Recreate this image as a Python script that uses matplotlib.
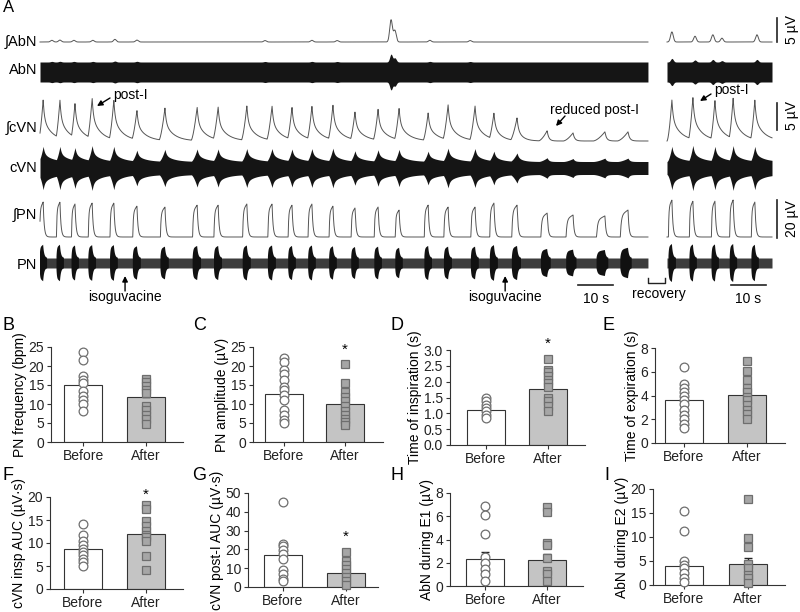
import matplotlib.pyplot as plt
import numpy as np

plt.rcParams["font.family"] = ["Liberation Sans", "DejaVu Sans"]
plt.rcParams["font.size"] = 10

# ---- panel A, values (s from start of segment, µV) ----
pn_peak_t = [0.9, 5.7, 10.0, 14.9, 21.1, 27.7, 35.7, 44.9, 50.9, 59.1, 66.3, 72.0, 77.7,
             83.7, 90.0, 96.6, 102.6, 110.9, 116.6, 124.3, 129.7, 136.3, 144.9, 152.3,
             161.4, 168.0]
pn_amp = [18.4, 18.4, 17.4, 17.9, 17.9, 16.3, 15.8, 16.8, 16.8, 17.4, 17.4, 16.8, 17.4,
          16.3, 15.3, 15.8, 14.2, 16.8, 15.8, 15.8, 17.9, 16.8, 12.6, 11.6, 11.1, 14.2]
insp_dur = [1.0, 1.0, 1.0, 1.1, 1.1, 1.2, 1.3, 1.3, 1.2, 1.2, 1.2, 1.1, 1.1,
            1.1, 1.1, 1.1, 1.1, 1.1, 1.2, 1.2, 1.2, 1.5, 1.8, 2.0, 2.4, 2.2]
cvn_amp = [7.6, 7.6, 7.0, 8.0, 7.6, 5.7, 6.1, 6.3, 6.3, 6.5, 6.5, 6.3, 6.5,
           6.7, 5.4, 5.9, 6.1, 5.2, 6.7, 6.5, 5.2, 4.3, 1.9, 1.5, 1.7, 1.7]
cvn_tau = [2.5, 2.5, 2.5, 2.5, 2.5, 2.5, 2.5, 2.5, 2.5, 2.5, 2.5, 2.5, 2.5,
           2.5, 2.5, 2.5, 2.5, 2.5, 2.5, 2.5, 2.0, 1.5, 0.6, 0.6, 0.6, 0.6]
abn_bump_t = [3.4, 5.7, 9.7, 15.1, 21.4, 27.7, 64.3, 77.7, 84.9, 100.3, 101.4, 111.4, 122.9]
abn_bump_amp = [0.35, 0.4, 0.35, 0.35, 0.55, 0.4, 0.3, 0.35, 0.3, 4.6, 2.4, 0.35, 0.3]
iso_t = [24.3, 132.9]

rec_pn_t = [1.4, 7.4, 13.7, 18.9, 25.1]
rec_pn_amp = [19.5, 18.9, 18.9, 19.5, 18.4]
rec_insp_dur = [1.0, 1.0, 1.0, 1.0, 1.0]
rec_cvn_amp = [7.6, 8.1, 7.6, 8.0, 7.6]
rec_cvn_tau = [2.5, 2.5, 2.5, 2.5, 2.5]
rec_abn_t = [1.4, 8.0, 13.1, 15.7, 25.7]
rec_abn_amp = [2.1, 1.2, 1.5, 0.8, 1.5]

SEG1_LEN = 173.7
REC_LEN = 30.0

# ---- panels B-I ----
labels = ["Before", "After"]
b_before = [23.6, 21.6, 17.3, 16.4, 15.5, 13.5, 12.1, 11.0, 10.1, 8.1]
b_after = [16.7, 15.8, 14.8, 13.8, 12.8, 9.4, 8.5, 7.0, 6.0, 4.7]
b_mean, b_sem = [14.9, 11.9], [1.3, 1.1]
c_before = [22.2, 21.1, 19.0, 17.8, 16.2, 14.6, 13.6, 12.3, 11.0, 8.3, 7.0, 5.7, 5.0]
c_after = [20.4, 15.4, 13.2, 11.8, 10.8, 9.4, 8.2, 7.0, 6.0, 5.3, 4.4]
c_mean, c_sem = [12.6, 9.9], [1.5, 1.4]
d_before = [1.48, 1.38, 1.26, 1.16, 1.06, 0.96, 0.86]
d_after = [2.72, 2.38, 2.30, 2.18, 2.05, 1.95, 1.82, 1.47, 1.40, 1.22, 1.08]
d_mean, d_sem = [1.09, 1.77], [0.07, 0.17]
e_before = [6.4, 5.0, 4.65, 4.3, 4.0, 3.65, 3.25, 2.8, 2.4, 2.0, 1.6, 1.25]
e_after = [6.9, 6.1, 5.3, 4.65, 4.3, 3.9, 3.65, 3.2, 2.8, 2.45, 2.05]
e_mean, e_sem = [3.6, 4.05], [0.45, 0.45]
f_before = [14.2, 11.7, 10.5, 9.6, 8.8, 8.1, 7.4, 6.5, 5.8, 5.1]
f_after = [18.3, 17.3, 14.7, 13.7, 12.6, 11.7, 11.2, 10.5, 7.1, 4.2]
f_mean, f_sem = [8.7, 11.9], [0.8, 1.2]
g_before = [45.0, 22.9, 21.8, 19.7, 17.4, 14.7, 9.2, 6.9, 4.4, 3.0]
g_after = [18.6, 14.0, 11.9, 9.6, 7.4, 5.1, 3.0, 1.2]
g_mean, g_sem = [16.8, 7.4], [3.2, 1.6]
h_before = [6.9, 6.1, 4.5, 2.5, 2.0, 1.5, 1.0, 0.46]
h_after = [6.8, 6.4, 3.7, 3.5, 2.4, 1.3, 1.0, 0.46]
h_mean, h_sem = [2.33, 2.24], [0.6, 0.55]
i_before = [15.5, 11.3, 4.9, 4.2, 3.5, 2.4, 1.4, 0.7]
i_after = [17.9, 9.8, 7.9, 4.3, 3.5, 2.1, 1.4, 0.35]
i_mean, i_sem = [4.0, 4.3], [0.9, 1.3]

EDGE = "#333333"
MK_EDGE = "#6e6e6e"


def pn_integrated(t, peaks, amps, durs):
    y = np.zeros_like(t)
    for tp, a, d in zip(peaks, amps, durs):
        on = tp - d
        m = (t >= on) & (t < tp)
        f = (t[m] - on) / d
        y[m] = np.maximum(y[m], a * (1 - np.exp(-f * 8)) * (0.8 + 0.2 * f))
        m = t >= tp
        y[m] = np.maximum(y[m], a * np.exp(-(t[m] - tp) / 0.3))
    return y


def cvn_integrated(t, peaks, amps, durs, taus):
    y = np.zeros_like(t)
    for tp, a, d, tau in zip(peaks, amps, durs, taus):
        on = tp - 1.4 * d
        m = (t >= on) & (t < tp)
        f = (t[m] - on) / (tp - on)
        y[m] = np.maximum(y[m], a * f ** 1.6)
        m = t >= tp
        dt = t[m] - tp
        y[m] = np.maximum(y[m], a * (0.45 * np.exp(-dt / 0.35) + 0.55 * np.exp(-dt / tau)))
    return y


def bumps(t, centers, amps, width=0.55):
    y = np.zeros_like(t)
    for c, a in zip(centers, amps):
        y += a * np.exp(-((t - c) / width) ** 2)
    return y


def X(px):
    # 3.5 px per second, trace starts at x = 40 px
    return (px - 40) / 3.5


fig = plt.figure(figsize=(8, 6.12), dpi=100)

# ---------------- panel A ----------------
axA = fig.add_axes([0, 1 - 305 / 612, 1, 305 / 612])
axA.set_xlim(X(0), X(800))
axA.set_ylim(305, 0)
axA.axis("off")

REC0 = X(667)
segments = [
    (np.linspace(0, SEG1_LEN, 6000), 0.0, pn_peak_t, pn_amp, insp_dur, cvn_amp, cvn_tau,
     abn_bump_t, abn_bump_amp),
    (np.linspace(0, REC_LEN, 1200), REC0, rec_pn_t, rec_pn_amp, rec_insp_dur, rec_cvn_amp,
     rec_cvn_tau, rec_abn_t, rec_abn_amp),
]
for t, x0, pk, pa, pd, ca, ct, at, aa in segments:
    ipn = pn_integrated(t, pk, pa, pd)
    icvn = cvn_integrated(t, pk, ca, pd, ct)
    iabn = bumps(t, at, aa)
    xs = t + x0
    axA.plot(xs, 42 - 4.8 * iabn, color="#555555", lw=0.7)
    half = 10 + 1.7 * iabn
    axA.fill_between(xs, 72 - half, 72 + half, color="#151515", lw=0)
    axA.plot(xs, 141 - 5.4 * icvn, color="#555555", lw=0.7)
    half = 6.5 + 2.0 * icvn
    axA.fill_between(xs, 168 - half, 168 + half, color="#151515", lw=0)
    axA.plot(xs, 237 - 1.9 * ipn, color="#555555", lw=0.7)
    axA.fill_between(xs, 258, 268, color="#3c3c3c", lw=0)
    half = 5 + 0.72 * ipn
    axA.fill_between(xs, 263 - half, 263 + half, where=ipn > 0.4, color="#111111", lw=0)

for name, y in [("\u222bAbN", 42), ("AbN", 70), ("\u222bcVN", 128), ("cVN", 168),
                ("\u222bPN", 215), ("PN", 265)]:
    axA.text(X(37), y, name, ha="right", va="center", fontsize=10.5)
axA.text(X(3), 8, "A", ha="left", va="center", fontsize=12)

# vertical scale bars
sx = X(777)
axA.plot([sx, sx], [42, 42 - 4.8 * 5], color="#222222", lw=1.2)
axA.text(X(792), 30, "5 \u00b5V", rotation=90, ha="center", va="center", fontsize=10)
axA.plot([sx, sx], [130, 130 - 5.4 * 5], color="#222222", lw=1.2)
axA.text(X(792), 116, "5 \u00b5V", rotation=90, ha="center", va="center", fontsize=10)
axA.plot([sx, sx], [238, 238 - 1.9 * 20], color="#222222", lw=1.2)
axA.text(X(792), 219, "20 \u00b5V", rotation=90, ha="center", va="center", fontsize=10)

# time bars
for x_start, x_txt in [(X(578), X(596)), (X(731), X(748))]:
    axA.plot([x_start, x_start + 10], [285, 285], color="#222222", lw=1.2)
    axA.text(x_txt, 299, "10 s", ha="center", va="center", fontsize=10)

# recovery bracket
axA.plot([X(648), X(648), X(665), X(665)], [278, 283, 283, 278], color="#222222", lw=1.0)
axA.text(X(659), 294, "recovery", ha="center", va="center", fontsize=10)

arrow = dict(arrowstyle="-|>", color="black", lw=1.0, mutation_scale=8,
             shrinkA=0, shrinkB=0)
for ti in iso_t:
    axA.annotate("", xy=(ti, 276), xytext=(ti, 291), arrowprops=arrow)
    axA.text(ti, 297, "isoguvacine", ha="center", va="center", fontsize=10)
axA.annotate("", xy=(X(97), 106), xytext=(X(110), 98), arrowprops=arrow)
axA.text(X(113), 95, "post-I", ha="left", va="center", fontsize=10)
axA.annotate("", xy=(X(700), 101), xytext=(X(711), 94), arrowprops=arrow)
axA.text(X(714), 90, "post-I", ha="left", va="center", fontsize=10)
axA.annotate("", xy=(X(556), 126), xytext=(X(565), 116), arrowprops=arrow)
axA.text(X(550), 110, "reduced post-I", ha="left", va="center", fontsize=10)

# ---------------- panels B-I ----------------
# (left, right, top, bottom, centre of Before bar, centre of After bar) in pixels
panels = [
    ("B", "PN frequency (bpm)", b_before, b_after, b_mean, b_sem, 25, [0, 5, 10, 15, 20, 25],
     None, (51, 183, 347, 442, 83, 146), (3, 326)),
    ("C", "PN amplitude (\u00b5V)", c_before, c_after, c_mean, c_sem, 25, [0, 5, 10, 15, 20, 25],
     24.3, (253, 383, 347, 442, 283.5, 344.5), (193, 326)),
    ("D", "Time of inspiration (s)", d_before, d_after, d_mean, d_sem, 3.0,
     [0.0, 0.5, 1.0, 1.5, 2.0, 2.5, 3.0], 3.2, (450, 585, 350, 445, 486, 548), (390, 326)),
    ("E", "Time of expiration (s)", e_before, e_after, e_mean, e_sem, 8, [0, 2, 4, 6, 8],
     None, (655, 785, 348, 443, 683.5, 746.5), (602, 326)),
    ("F", "cVN insp AUC (\u00b5V\u00b7s)", f_before, f_after, f_mean, f_sem, 20,
     [0, 5, 10, 15, 20], 20.4, (50, 183, 497, 589, 82.5, 145.5), (3, 476)),
    ("G", "cVN post-I AUC (\u00b5V\u00b7s)", g_before, g_after, g_mean, g_sem, 50,
     [0, 10, 20, 30, 40, 50], 26.6, (248, 378, 493, 587, 282.5, 346), (192, 476)),
    ("H", "AbN during E1 (\u00b5V)", h_before, h_after, h_mean, h_sem, 8, [0, 2, 4, 6, 8],
     None, (450, 583, 493, 586, 485, 546.5), (390, 476)),
    ("I", "AbN during E2 (\u00b5V)", i_before, i_after, i_mean, i_sem, 20, [0, 5, 10, 15, 20],
     None, (653, 785, 489, 585, 684, 747.5), (604, 476)),
]

for letter, ylab, before, after, mean, sem, ymax, yticks, star, box, lpos in panels:
    left, right, top, bottom, c0, c1 = box
    ax = fig.add_axes([left / 800, 1 - bottom / 612, (right - left) / 800, (bottom - top) / 612])
    u = c1 - c0
    ax.set_xlim((left - c0) / u, (right - c0) / u)
    ax.set_ylim(0, ymax)
    ax.bar([0, 1], mean, width=38 / u, color=["white", "#c4c4c4"], edgecolor=EDGE,
           linewidth=0.8, zorder=1)
    ax.errorbar([0, 1], mean, yerr=[[0, 0], sem], fmt="none", ecolor="#222222",
                elinewidth=1.0, capsize=3, zorder=2)
    ax.plot(np.zeros(len(before)), before, "o", ms=6.3, mfc="white", mec=MK_EDGE,
            mew=0.9, ls="none", zorder=3, clip_on=False)
    ax.plot(np.ones(len(after)), after, "s", ms=5.6, mfc="#a6a6a6", mec=MK_EDGE,
            mew=0.9, ls="none", zorder=3, clip_on=False)
    if star is not None:
        ax.text(1, star, "*", ha="center", va="center", fontsize=11, clip_on=False)
    ax.set_yticks(yticks)
    if isinstance(yticks[1], float):
        ax.set_yticklabels([f"{v:.1f}" for v in yticks])
    ax.set_xticks([0, 1])
    ax.set_xticklabels(labels)
    ax.set_ylabel(ylab, labelpad=1, fontsize=10)
    for side in ["top", "right"]:
        ax.spines[side].set_visible(False)
    for side in ["left", "bottom"]:
        ax.spines[side].set_color(EDGE)
        ax.spines[side].set_linewidth(0.8)
    ax.tick_params(direction="out", length=3, width=0.8, color=EDGE, labelcolor="#222222",
                   labelsize=10, pad=2)
    fig.text(lpos[0] / 800, 1 - lpos[1] / 612, letter, ha="left", va="center", fontsize=13)

fig.savefig("out.png", dpi=100)
